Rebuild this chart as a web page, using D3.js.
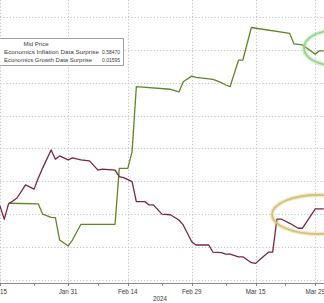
<!DOCTYPE html>
<html>
<head>
<meta charset="utf-8">
<script src="https://cdn.jsdelivr.net/npm/d3@7"></script>
<style>
body { margin: 0; background: #fff; }
svg { display: block; font-family: "Liberation Sans", Arial, sans-serif; }
.grid line { stroke: #c4c4c4; stroke-width: 1; stroke-dasharray: 1.2,2; }
.lbl { fill: #3a3a3a; font-size: 6.3px; }
.leg { fill: #3a3a3a; font-size: 6px; }
</style>
</head>
<body>
<svg id="chart" width="324" height="303"></svg>
<script>
// data
var growthDates = ["2024-01-15","2024-01-16","2024-01-17","2024-01-19","2024-01-21","2024-01-23","2024-01-24","2024-01-25",
	"2024-01-27","2024-01-28","2024-01-29","2024-01-31","2024-02-01","2024-02-03","2024-02-05","2024-02-07","2024-02-08",
	"2024-02-11","2024-02-12","2024-02-13","2024-02-15","2024-02-16","2024-02-18","2024-02-19","2024-02-20","2024-02-22",
	"2024-02-24","2024-02-26","2024-02-27","2024-02-29","2024-03-01","2024-03-04","2024-03-05","2024-03-07","2024-03-08",
	"2024-03-09","2024-03-11","2024-03-12","2024-03-14","2024-03-15","2024-03-16","2024-03-18","2024-03-19","2024-03-20",
	"2024-03-21","2024-03-23","2024-03-25","2024-03-26","2024-03-29","2024-03-31"];
var growthValues = [0.025,-0.016,0.031,0.049,0.089,0.076,0.110,0.140,
	0.195,0.167,0.177,0.165,0.171,0.165,0.162,0.134,0.137,
	0.134,0.114,0.111,0.099,0.038,0.038,0.028,0.028,0.000,
	-0.002,-0.018,-0.033,-0.084,-0.094,-0.094,-0.116,-0.117,-0.122,
	-0.122,-0.130,-0.130,-0.148,-0.150,-0.138,-0.116,-0.116,-0.015,
	-0.015,-0.028,-0.043,-0.043,0.016,0.016];

var inflDates = ["2024-01-17","2024-01-24","2024-01-25","2024-01-27","2024-01-28","2024-01-29","2024-01-31","2024-02-01",
	"2024-02-03","2024-02-11","2024-02-12","2024-02-14","2024-02-15","2024-02-16","2024-02-24","2024-02-26","2024-02-27",
	"2024-02-29","2024-03-01","2024-03-05","2024-03-07","2024-03-08","2024-03-09","2024-03-11","2024-03-12","2024-03-14",
	"2024-03-23","2024-03-24","2024-03-26","2024-03-29","2024-03-30","2024-03-31"];
var inflValues = [0.033,0.031,0.000,-0.010,-0.011,-0.079,-0.097,-0.079,
	-0.031,-0.031,0.139,0.139,0.190,0.388,0.380,0.372,0.403,
	0.420,0.416,0.410,0.400,0.393,0.388,0.469,0.469,0.568,
	0.550,0.518,0.515,0.487,0.497,0.497];

var tickDates = ["2024-01-15","2024-01-31","2024-02-14","2024-02-29","2024-03-15","2024-03-29"];
var tickLabels = ["15","Jan 31","Feb 14","Feb 29","Mar 15","Mar 29"];
var minorDates = ["2024-01-23","2024-02-07","2024-02-22","2024-03-08","2024-03-22"];
var gridValues = [-0.2,-0.1,0,0.1,0.2,0.3,0.4,0.5,0.6];
var legendNames = ["Economics Inflation Data Surprise","Economics Growth Data Surprise"];
var legendValues = ["0.58470","0.01595"];

var GREEN = "#5f8526";
var MAROON = "#7a2444";

var parse = d3.timeParse("%Y-%m-%d");
var svg = d3.select("#chart");

var x = d3.scaleTime().domain([parse("2024-01-15"), parse("2024-03-31")]).range([0, 323.8]);
var y = d3.scaleLinear().domain([-0.2, 0.6]).range([279.8, 17]);

function pairs(dates, vals)
{
	return dates.map(function(d, i){ return {date: parse(d), v: vals[i]}; });
}

// grid
var grid = svg.append("g").attr("class", "grid");
grid.selectAll(".h").data(gridValues).enter().append("line")
	.attr("x1", 0).attr("x2", 324)
	.attr("y1", function(d){ return Math.round(y(d)) + 0.5; })
	.attr("y2", function(d){ return Math.round(y(d)) + 0.5; });
grid.selectAll(".v").data(tickDates).enter().append("line")
	.attr("x1", function(d){ return Math.round(x(parse(d))) + 0.5; })
	.attr("x2", function(d){ return Math.round(x(parse(d))) + 0.5; })
	.attr("y1", 0).attr("y2", 283);

// axis
var axisY = 283.5;
svg.append("line").attr("x1", 0).attr("x2", 324).attr("y1", axisY).attr("y2", axisY)
	.attr("stroke", "#8a8a8a").attr("stroke-width", 1);
svg.selectAll(".mt").data(tickDates.concat(minorDates)).enter().append("line")
	.attr("x1", function(d){ return Math.round(x(parse(d))) + 0.5; })
	.attr("x2", function(d){ return Math.round(x(parse(d))) + 0.5; })
	.attr("y1", axisY).attr("y2", axisY + 2.5)
	.attr("stroke", "#8a8a8a");
svg.selectAll(".tl").data(tickDates).enter().append("text")
	.attr("class", "lbl")
	.attr("text-anchor", function(d, i){ return i == 0 ? "start" : "middle"; })
	.attr("x", function(d, i){ return i == 0 ? 0 : x(parse(d)); })
	.attr("y", 293.5)
	.text(function(d, i){ return tickLabels[i]; });
svg.append("text").attr("class", "lbl").attr("text-anchor", "middle")
	.attr("x", 160).attr("y", 301).text("2024");

// lines
var line = d3.line().x(function(d){ return x(d.date); }).y(function(d){ return y(d.v); });
svg.append("path").datum(pairs(inflDates, inflValues))
	.attr("fill", "none").attr("stroke", GREEN).attr("stroke-width", 1.3)
	.attr("stroke-linejoin", "round").attr("d", line);
svg.append("path").datum(pairs(growthDates, growthValues))
	.attr("fill", "none").attr("stroke", MAROON).attr("stroke-width", 1.3)
	.attr("stroke-linejoin", "round").attr("d", line);

// highlight ellipses
function ring(cx, cy, rx, ry, col)
{
	svg.append("ellipse").attr("cx", cx).attr("cy", cy).attr("rx", rx).attr("ry", ry)
		.attr("fill", "none").attr("stroke", col).attr("stroke-width", 4.5).attr("opacity", 0.35);
	svg.append("ellipse").attr("cx", cx).attr("cy", cy).attr("rx", rx).attr("ry", ry)
		.attr("fill", "none").attr("stroke", col).attr("stroke-width", 1.8);
}
ring(318, 214.5, 46, 19.5, "#d7c172");
ring(332, 48, 28, 17, "#95d68a");

// legend
var lg = svg.append("g");
lg.append("rect").attr("x", -10.5).attr("y", 38.5).attr("width", 134).attr("height", 27)
	.attr("fill", "#fff").attr("stroke", "#a0a0a0").attr("stroke-width", 1);
lg.append("text").attr("class", "leg").attr("x", 36).attr("y", 46).attr("text-anchor", "middle").text("Mid Price");
lg.selectAll(".ln").data(legendNames).enter().append("text")
	.attr("class", "leg").attr("x", 4)
	.attr("y", function(d, i){ return 54 + i * 8; })
	.attr("textLength", function(d, i){ return i == 0 ? 95 : 88; })
	.attr("lengthAdjust", "spacingAndGlyphs")
	.text(function(d){ return d; });
lg.selectAll(".lv").data(legendValues).enter().append("text")
	.attr("class", "leg").attr("x", 102)
	.attr("y", function(d, i){ return 54 + i * 8; })
	.attr("textLength", 18)
	.attr("lengthAdjust", "spacingAndGlyphs")
	.text(function(d){ return d; });
</script>
</body>
</html>
